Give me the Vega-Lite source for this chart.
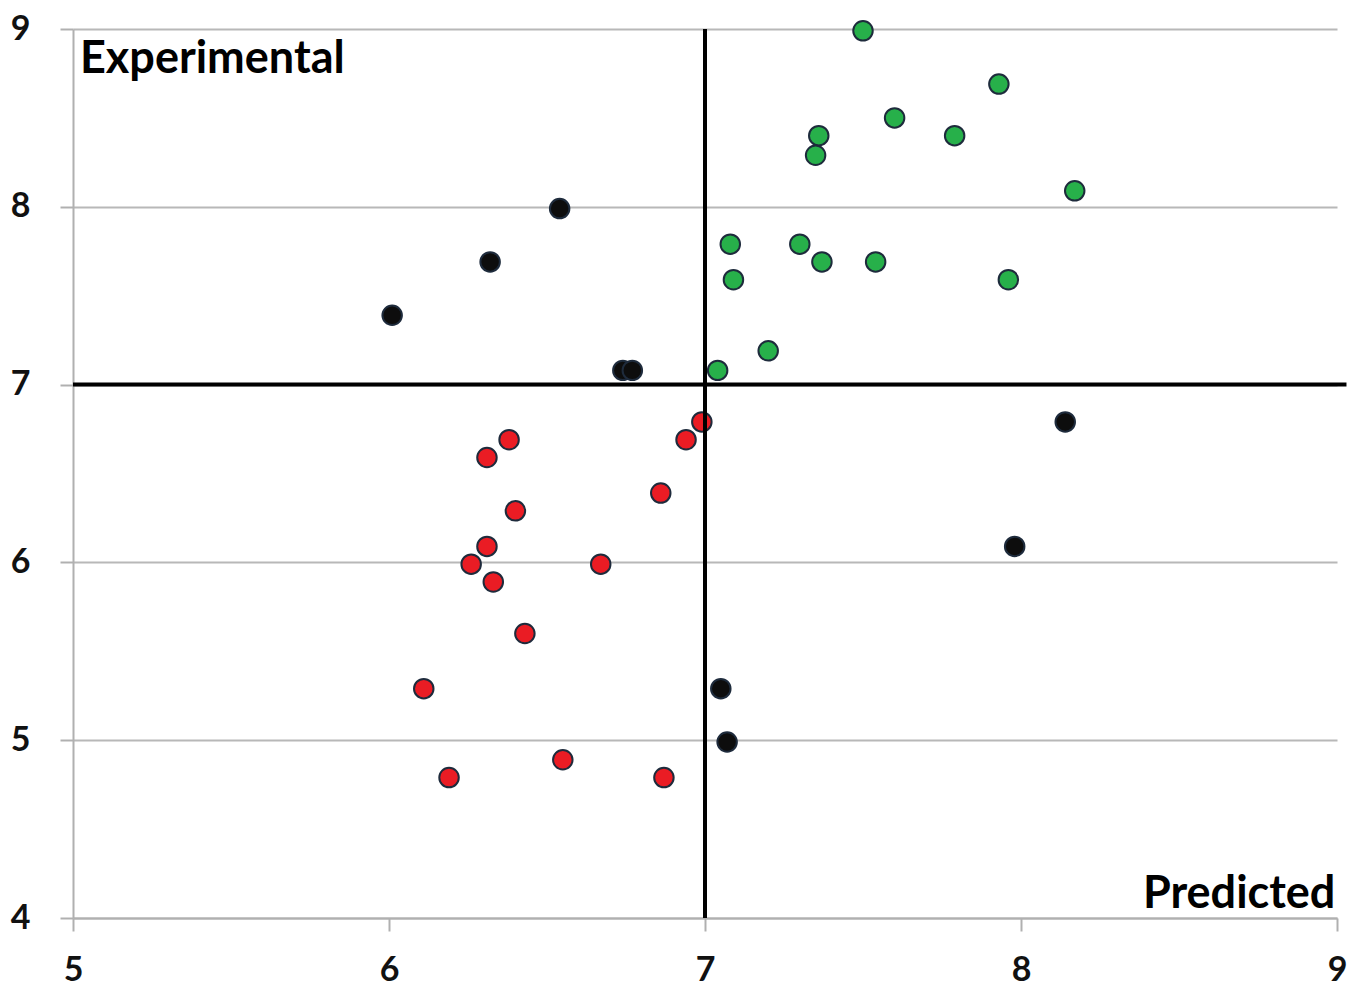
{
  "$schema": "https://vega.github.io/schema/vega-lite/v6.json",
  "width": 1264,
  "height": 889,
  "autosize": {"type": "none"},
  "padding": {"left": 73, "top": 29, "right": 12, "bottom": 70},
  "background": "white",
  "config": {
    "view": {"stroke": null},
    "font": "Lato"
  },
  "datasets": {
    "points": [
      {"predicted": 7.50, "experimental": 8.99, "group": "green"},
      {"predicted": 7.93, "experimental": 8.69, "group": "green"},
      {"predicted": 7.60, "experimental": 8.50, "group": "green"},
      {"predicted": 7.36, "experimental": 8.40, "group": "green"},
      {"predicted": 7.79, "experimental": 8.40, "group": "green"},
      {"predicted": 7.35, "experimental": 8.29, "group": "green"},
      {"predicted": 8.17, "experimental": 8.09, "group": "green"},
      {"predicted": 7.08, "experimental": 7.79, "group": "green"},
      {"predicted": 7.30, "experimental": 7.79, "group": "green"},
      {"predicted": 7.37, "experimental": 7.69, "group": "green"},
      {"predicted": 7.54, "experimental": 7.69, "group": "green"},
      {"predicted": 7.09, "experimental": 7.59, "group": "green"},
      {"predicted": 7.96, "experimental": 7.59, "group": "green"},
      {"predicted": 7.20, "experimental": 7.19, "group": "green"},
      {"predicted": 7.04, "experimental": 7.08, "group": "green"},
      {"predicted": 6.54, "experimental": 7.99, "group": "black"},
      {"predicted": 6.32, "experimental": 7.69, "group": "black"},
      {"predicted": 6.01, "experimental": 7.39, "group": "black"},
      {"predicted": 6.74, "experimental": 7.08, "group": "black"},
      {"predicted": 6.77, "experimental": 7.08, "group": "black"},
      {"predicted": 8.14, "experimental": 6.79, "group": "black"},
      {"predicted": 7.98, "experimental": 6.09, "group": "black"},
      {"predicted": 7.05, "experimental": 5.29, "group": "black"},
      {"predicted": 7.07, "experimental": 4.99, "group": "black"},
      {"predicted": 6.99, "experimental": 6.79, "group": "red"},
      {"predicted": 6.94, "experimental": 6.69, "group": "red"},
      {"predicted": 6.38, "experimental": 6.69, "group": "red"},
      {"predicted": 6.31, "experimental": 6.59, "group": "red"},
      {"predicted": 6.86, "experimental": 6.39, "group": "red"},
      {"predicted": 6.40, "experimental": 6.29, "group": "red"},
      {"predicted": 6.31, "experimental": 6.09, "group": "red"},
      {"predicted": 6.26, "experimental": 5.99, "group": "red"},
      {"predicted": 6.67, "experimental": 5.99, "group": "red"},
      {"predicted": 6.33, "experimental": 5.89, "group": "red"},
      {"predicted": 6.43, "experimental": 5.60, "group": "red"},
      {"predicted": 6.11, "experimental": 5.29, "group": "red"},
      {"predicted": 6.19, "experimental": 4.79, "group": "red"},
      {"predicted": 6.55, "experimental": 4.89, "group": "red"},
      {"predicted": 6.87, "experimental": 4.79, "group": "red"}
    ],
    "hline": [{"x": 5, "x2": 9.03, "y": 7}],
    "vline": [{"x": 7, "y": 4, "y2": 9}],
    "labelLeft": [{"x": 5.022, "y": 8.83, "text": "Experimental"}],
    "labelRight": [{"x": 8.995, "y": 4.135, "text": "Predicted"}]
  },
  "layer": [
    {
      "data": {"name": "points"},
      "mark": {"type": "point", "shape": "circle", "filled": true, "size": 380, "stroke": "#1e2b3c", "strokeWidth": 2, "opacity": 1},
      "encoding": {
        "x": {
          "field": "predicted", "type": "quantitative",
          "scale": {"domain": [5, 9], "nice": false, "zero": false},
          "axis": {
            "title": null, "values": [5, 6, 7, 8, 9], "format": "d",
            "grid": false, "domainColor": "#b0b0b0", "domainWidth": 2,
            "tickColor": "#b0b0b0", "tickWidth": 2, "tickSize": 13,
            "labelFont": "Lato", "labelFontWeight": "bold", "labelFontSize": 34,
            "labelColor": "#111111", "labelPadding": 22, "labelFlush": false
          }
        },
        "y": {
          "field": "experimental", "type": "quantitative",
          "scale": {"domain": [4, 9], "nice": false, "zero": false},
          "axis": {
            "title": null, "values": [4, 5, 6, 7, 8, 9], "format": "d",
            "grid": true, "gridColor": "#b8b8b8", "gridWidth": 2,
            "domainColor": "#b0b0b0", "domainWidth": 2,
            "tickColor": "#b0b0b0", "tickWidth": 2, "tickSize": 13,
            "labelFont": "Lato", "labelFontWeight": "bold", "labelFontSize": 34,
            "labelColor": "#111111", "labelPadding": 30, "labelFlush": false
          }
        },
        "fill": {
          "field": "group", "type": "nominal",
          "scale": {"domain": ["green", "black", "red"], "range": ["#27b04a", "#0d0d0d", "#ea1c24"]},
          "legend": null
        }
      }
    },
    {
      "data": {"name": "hline"},
      "mark": {"type": "rule", "color": "#000000", "strokeWidth": 4, "clip": false},
      "encoding": {
        "x": {"field": "x", "type": "quantitative"},
        "x2": {"field": "x2"},
        "y": {"field": "y", "type": "quantitative"}
      }
    },
    {
      "data": {"name": "vline"},
      "mark": {"type": "rule", "color": "#000000", "strokeWidth": 4},
      "encoding": {
        "x": {"field": "x", "type": "quantitative"},
        "y": {"field": "y", "type": "quantitative"},
        "y2": {"field": "y2"}
      }
    },
    {
      "data": {"name": "labelLeft"},
      "mark": {"type": "text", "font": "Lato", "fontWeight": "bold", "fontSize": 45, "color": "#000000", "baseline": "middle", "align": "left"},
      "encoding": {
        "x": {"field": "x", "type": "quantitative"},
        "y": {"field": "y", "type": "quantitative"},
        "text": {"field": "text"}
      }
    },
    {
      "data": {"name": "labelRight"},
      "mark": {"type": "text", "font": "Lato", "fontWeight": "bold", "fontSize": 45, "color": "#000000", "baseline": "middle", "align": "right"},
      "encoding": {
        "x": {"field": "x", "type": "quantitative"},
        "y": {"field": "y", "type": "quantitative"},
        "text": {"field": "text"}
      }
    }
  ]
}
